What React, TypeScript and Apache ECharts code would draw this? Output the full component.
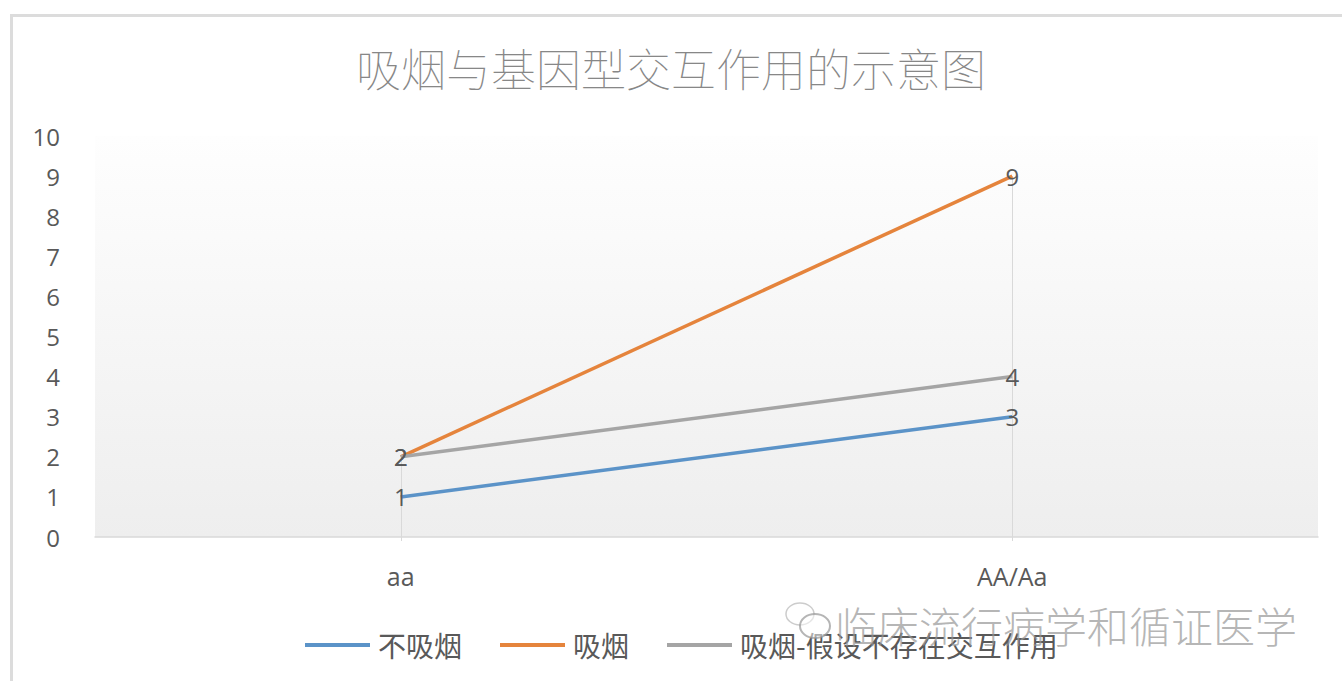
import React, { useEffect, useRef } from "react";
import * as echarts from "echarts";

const categories = ["aa", "AA/Aa"];
const nonSmoking = [1, 3];
const smoking = [2, 9];
const smokingNoInteraction = [2, 4];
const seriesNames = ["不吸烟", "吸烟", "吸烟-假设不存在交互作用"];
const seriesColors = ["#5b93c8", "#e5843c", "#a5a5a5"];
const yTicks = [0, 10, 1]; // min, max, interval
const titleText = "吸烟与基因型交互作用的示意图";
const watermarkText = "临床流行病学和循证医学";

const FONT = '"Open Sans", "Noto Sans CJK SC", sans-serif';
const CJK = '"Noto Sans CJK SC", sans-serif';
const TEXT = "#595959";

export default function App() {
  const ref = useRef<HTMLDivElement>(null);
  useEffect(() => {
    document.body.style.margin = "0";
    const chart = echarts.init(ref.current!, null, { renderer: "svg" });
    const label = {
      show: true,
      position: "inside",
      color: TEXT,
      fontSize: 24,
      fontFamily: FONT,
    };
    const mkSeries = (name: string, data: number[], color: string, extra: any = {}) => ({
      name,
      type: "line",
      data,
      symbol: "circle",
      symbolSize: 0.1,
      showSymbol: true,
      itemStyle: { color },
      lineStyle: { color, width: 3.5 },
      label,
      emphasis: { disabled: true },
      z: 3,
      ...extra,
    });
    chart.setOption({
      animation: false,
      backgroundColor: "#ffffff",
      title: {
        text: titleText,
        left: "center",
        top: 40,
        textStyle: { fontSize: 45, fontWeight: "lighter", color: "#878787", fontFamily: CJK },
      },
      grid: {
        left: 95,
        right: 24,
        top: 136,
        bottom: 144,
        show: true,
        borderWidth: 0,
        backgroundColor: new echarts.graphic.LinearGradient(0, 0, 0, 1, [
          { offset: 0, color: "#fefefe" },
          { offset: 1, color: "#eeeeee" },
        ]),
      },
      legend: {
        top: 626,
        left: 300,
        itemWidth: 65,
        itemHeight: 4,
        itemGap: 38,
        icon: "rect",
        textStyle: { fontSize: 28, color: TEXT, fontFamily: CJK, padding: [0, 0, 0, 3] },
        data: seriesNames.map((n, i) => ({ name: n, itemStyle: { color: seriesColors[i] } })),
      },
      xAxis: {
        type: "category",
        data: categories,
        boundaryGap: true,
        axisLine: { lineStyle: { color: "#d9d9d9", width: 1.5 } },
        axisTick: { show: true, alignWithLabel: true, length: 4, lineStyle: { color: "#d9d9d9" } },
        axisLabel: { fontSize: 25, color: TEXT, fontFamily: FONT, margin: 26 },
        splitLine: { show: false },
      },
      yAxis: {
        type: "value",
        min: yTicks[0],
        max: yTicks[1],
        interval: yTicks[2],
        axisLine: { show: false },
        axisTick: { show: false },
        splitLine: { show: false },
        axisLabel: { fontSize: 24, color: TEXT, fontFamily: FONT, margin: 35 },
      },
      series: [
        mkSeries(seriesNames[0], nonSmoking, seriesColors[0]),
        mkSeries(seriesNames[1], smoking, seriesColors[1], {
          markLine: {
            silent: true,
            symbol: "none",
            label: { show: false },
            lineStyle: { color: "#d9d9d9", width: 1, type: "solid" },
            z: 1,
            data: categories.map((c, i) => [
              { coord: [c, Math.max(smoking[i], smokingNoInteraction[i], nonSmoking[i])] },
              { coord: [c, 0] },
            ]),
          },
        }),
        mkSeries(seriesNames[2], smokingNoInteraction, seriesColors[2]),
      ],
      graphic: [
        {
          type: "rect",
          left: 9,
          top: 13,
          shape: { width: 1360, height: 700 },
          style: { fill: "none", stroke: "#dcdcdc", lineWidth: 3 },
          silent: true,
          z: 100,
        },
        {
          type: "ellipse",
          shape: { cx: 800, cy: 614, rx: 14, ry: 11 },
          style: { fill: "none", stroke: "rgba(170,170,170,0.6)", lineWidth: 1.5 },
          silent: true,
          z: 100,
        },
        {
          type: "ellipse",
          shape: { cx: 815, cy: 626, rx: 15, ry: 12 },
          style: { fill: "rgba(255,255,255,0.5)", stroke: "rgba(150,150,150,0.7)", lineWidth: 2 },
          silent: true,
          z: 100,
        },
        {
          type: "text",
          x: 835,
          y: 624,
          style: {
            text: watermarkText,
            font: `300 42px ${CJK}`,
            fill: "rgba(150,150,150,0.7)",
            verticalAlign: "middle",
          },
          silent: true,
          z: 100,
        },
      ],
    });
    return () => chart.dispose();
  }, []);
  return <div ref={ref} style={{ width: 1342, height: 681 }} />;
}
